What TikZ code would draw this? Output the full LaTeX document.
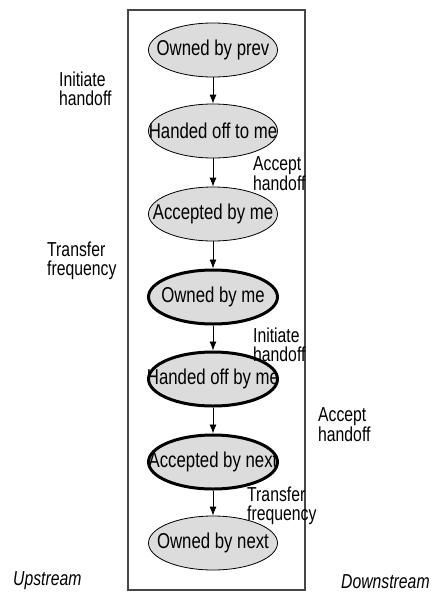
\documentclass[tikz,border=0pt]{standalone}
\usepackage{fontspec}
\setmainfont{Liberation Sans}[FakeStretch=0.78]
\usepackage{tikz}
\usepackage{xcolor}
\usetikzlibrary{shapes.geometric, arrows.meta}

\definecolor{stategray}{RGB}{220,220,220}
\definecolor{boxgray}{RGB}{70,70,70}

\tikzset{
  state/.style={ellipse, draw=black, fill=stategray, line width=0.8pt,
    minimum width=129pt, minimum height=54pt, inner xsep=-25pt, inner ysep=0pt,
    font=\fontsize{21.5}{22}\selectfont},
  mystate/.style={state, line width=3pt},
  note/.style={anchor=base west, align=left, inner sep=0pt,
    font=\fontsize{20.2}{18.5}\selectfont},
  flow/.style={-{Latex[length=9pt, width=7pt]}, line width=0.8pt}
}

\begin{document}
\begin{tikzpicture}[x=1pt, y=-1pt]

        \useasboundingbox (0, 0) rectangle (435, 592);

        % frame of this node
        \draw [line width=1.2pt, boxgray] (128, 10) rectangle (305, 590);

        % states
        \node[state] (prev) at (213, 50) {Owned by prev};
        \node[state] (tome) at (213, 131) {Handed off to me};
        \node[state] (accme) at (213, 214) {Accepted by me};
        \node[mystate] (ownme) at (213, 297) {Owned by me};
        \node[mystate] (byme) at (213, 379) {Handed off by me};
        \node[mystate] (accnext) at (213, 462) {Accepted by next};
        \node[state] (next) at (213, 543) {Owned by next};

        % transitions
        \draw [flow] (prev) -- (tome);
        \draw [flow] (tome) -- (accme);
        \draw [flow] (accme) -- (ownme);
        \draw [flow] (ownme) -- (byme);
        \draw [flow] (byme) -- (accnext);
        \draw [flow] (accnext) -- (next);

        % messages (base = second line)
        \node[note] (init1) at (59, 105) {Initiate\\handoff};
        \node[note] (acc1) at (253, 190) {Accept\\handoff};
        \node[note] (xfer1) at (47, 275) {Transfer\\frequency};
        \node[note] (init2) at (253, 361) {Initiate\\handoff};
        \node[note] (acc2) at (318, 441) {Accept\\handoff};
        \node[note] (xfer2) at (247, 520) {Transfer\\frequency};

        % sides
        \node[note, font=\fontsize{20.2}{18}\selectfont\itshape] (up) at (13, 585) {Upstream};
        \node[note, font=\fontsize{20.2}{18}\selectfont\itshape] (down) at (341, 588) {Downstream};

\end{tikzpicture}
\end{document}
